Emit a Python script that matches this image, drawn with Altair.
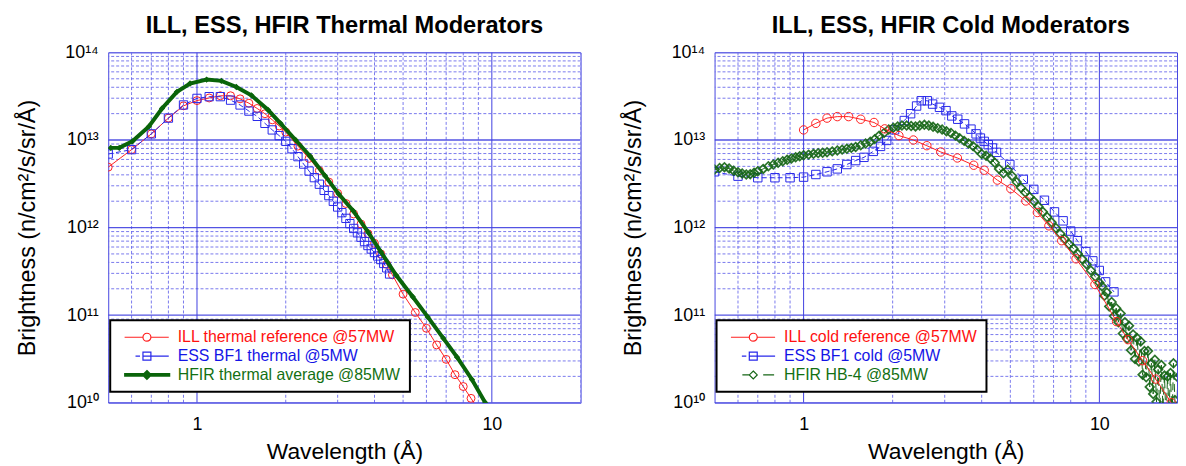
import altair as alt
import pandas as pd

FONT = "Liberation Sans"

# ---------------- grid / tick values ----------------
X_MAJOR = [1, 10]
X_MINOR = [0.6, 0.7, 0.8, 0.9, 2, 3, 4, 5, 6, 7, 8, 9, 20]
Y_MAJOR = [1e10, 1e11, 1e12, 1e13, 1e14]
Y_MINOR = [2e10, 3e10, 4e10, 5e10, 6e10, 7e10, 8e10, 9e10,
           2e11, 3e11, 4e11, 5e11, 6e11, 7e11, 8e11, 9e11,
           2e12, 3e12, 4e12, 5e12, 6e12, 7e12, 8e12, 9e12,
           2e13, 3e13, 4e13, 5e13, 6e13, 7e13, 8e13, 9e13]

# ---------------- thermal panel data (log10 of brightness) ----------------
ill_t_lam = [0.5, 0.6, 0.7, 0.8, 0.9, 1.0, 1.1, 1.2, 1.3, 1.4, 1.5, 1.6, 1.7, 1.8, 1.9, 2.0,
             2.2, 2.4, 2.6, 2.8, 3.0, 3.2, 3.4, 3.6, 3.8, 4.0, 4.2, 4.4, 4.6,
             5.0, 5.5, 6.0, 6.5, 7.0, 7.5, 8.0, 8.5, 9.0, 9.5]
ill_t_exp = [12.69, 12.89, 13.07, 13.25, 13.39, 13.45, 13.48, 13.505, 13.505, 13.47, 13.42, 13.36, 13.30, 13.23, 13.16, 13.09,
             12.93, 12.79, 12.65, 12.52, 12.39, 12.275, 12.155, 12.04, 11.93, 11.82, 11.70, 11.58, 11.46,
             11.24, 11.03, 10.85, 10.66, 10.495, 10.32, 10.185, 10.05, 9.92, 9.79]

ess_t_lam = [0.5, 0.6, 0.7, 0.8, 0.9, 1.0, 1.1, 1.2, 1.3, 1.4, 1.5, 1.6, 1.7, 1.8, 1.9, 2.0,
             2.1, 2.2, 2.3, 2.4, 2.5, 2.6, 2.7, 2.8, 2.9, 3.0, 3.1, 3.2, 3.3, 3.4, 3.5,
             3.6, 3.7, 3.8, 3.9, 4.0, 4.1, 4.2, 4.3, 4.4, 4.5]
ess_t_exp = [12.84, 12.89, 13.07, 13.25, 13.40, 13.475, 13.495, 13.495, 13.455, 13.40, 13.33, 13.27, 13.19, 13.115, 13.05, 12.985,
             12.90, 12.81, 12.725, 12.645, 12.57, 12.495, 12.425, 12.365, 12.30, 12.235, 12.17, 12.105, 12.045, 11.99, 11.94,
             11.89, 11.84, 11.795, 11.755, 11.715, 11.675, 11.635, 11.59, 11.54, 11.47]

hfir_t_lam = [0.51, 0.545, 0.604, 0.687, 0.761, 0.855, 0.947, 1.078, 1.21, 1.36, 1.53, 1.74, 1.92, 2.16,
              2.42, 2.72, 3.02, 3.39, 3.81, 4.21, 4.74, 5.39, 6.06, 6.85, 7.62, 8.56, 9.5, 10.5]
hfir_t_exp = [12.91, 12.91, 12.985, 13.155, 13.36, 13.55, 13.645, 13.69, 13.675, 13.605, 13.51, 13.345, 13.19, 13.0,
              12.815, 12.59, 12.385, 12.19, 11.945, 11.72, 11.455, 11.21, 10.98, 10.735, 10.52, 10.265, 10.0, 9.76]

# ---------------- cold panel data (log10 of brightness) ----------------
ill_c_lam = [1.0, 1.1, 1.2, 1.3, 1.42, 1.56, 1.73, 1.88, 2.1, 2.35, 2.61, 2.91, 3.31, 3.76, 4.08, 4.52,
             5.02, 5.64, 6.17, 6.75, 7.46, 8.34, 9.66, 11.43, 12.5, 14.0, 15.5, 17.5]
ill_c_exp = [13.115, 13.19, 13.25, 13.267, 13.267, 13.237, 13.20, 13.127, 13.05, 13.0, 12.935, 12.863, 12.795, 12.712, 12.655, 12.542,
             12.444, 12.304, 12.172, 12.02, 11.85, 11.643, 11.35, 10.926, 10.72, 10.48, 10.27, 10.0]

ess_c_lam = [0.5, 0.6, 0.7, 0.8, 0.9, 1.0, 1.1, 1.2, 1.3, 1.4, 1.5, 1.6, 1.72, 1.82, 1.91, 2.03, 2.19, 2.30,
             2.41, 2.50, 2.62, 2.73, 2.88, 3.03, 3.17, 3.32, 3.50, 3.68, 3.83, 3.96, 4.08, 4.21, 4.35, 4.49,
             4.98, 5.53, 6.0, 6.52, 7.05, 7.54, 8.0, 8.43, 9.0, 9.5, 9.99, 10.5, 11.2]
ess_c_exp = [12.637, 12.587, 12.569, 12.569, 12.569, 12.576, 12.606, 12.637, 12.67, 12.72, 12.765, 12.802, 12.87, 12.927, 12.995, 13.116, 13.222, 13.30,
             13.388, 13.448, 13.448, 13.41, 13.373, 13.335, 13.275, 13.237, 13.184, 13.124, 13.07, 13.022, 12.984, 12.946, 12.909, 12.859,
             12.72, 12.55, 12.436, 12.312, 12.179, 12.077, 11.96, 11.85, 11.726, 11.62, 11.51, 11.38, 11.266]

hb4_lam = [0.50, 0.52, 0.54, 0.56, 0.58, 0.60, 0.62, 0.64, 0.66, 0.68, 0.70, 0.73, 0.76, 0.79, 0.82, 0.85,
           0.88, 0.91, 0.94, 0.97, 1.00, 1.04, 1.08, 1.12, 1.16, 1.20, 1.25, 1.30, 1.35, 1.40, 1.45, 1.50,
           1.56, 1.62, 1.68, 1.74, 1.80, 1.87, 1.94, 2.01, 2.08, 2.15, 2.23, 2.31, 2.39, 2.47, 2.56, 2.65,
           2.74, 2.84, 2.94, 3.04, 3.15, 3.26, 3.37, 3.49, 3.61, 3.74, 3.87, 4.00, 4.14, 4.28, 4.43, 4.58,
           4.74, 4.90, 5.07, 5.25, 5.43, 5.62, 5.81, 6.01, 6.22, 6.44, 6.66, 6.89, 7.13, 7.38, 7.63, 7.90,
           8.17, 8.45, 8.74, 9.05, 9.36, 9.68, 10.0,
           10.2, 10.4, 10.6, 10.8, 11.0, 11.2, 11.4, 11.6, 11.8, 12.0, 12.2, 12.4, 12.6, 12.8, 13.0, 13.2,
           13.4, 13.6, 13.8, 14.0, 14.2, 14.4, 14.6, 14.8, 15.0, 15.2, 15.4, 15.6, 15.8, 16.0, 16.2, 16.4,
           16.6, 16.8, 17.0, 17.2, 17.4, 17.6, 17.8, 18.0, 18.2, 18.4, 18.6, 18.8]
hb4_exp = [12.663, 12.68, 12.69, 12.675, 12.65, 12.632, 12.618, 12.606, 12.61, 12.625, 12.644, 12.67, 12.70, 12.72, 12.74, 12.757,
           12.775, 12.79, 12.802, 12.815, 12.825, 12.833, 12.842, 12.85, 12.855, 12.86, 12.87, 12.88, 12.89, 12.90, 12.91, 12.92,
           12.94, 12.96, 12.98, 13.01, 13.05, 13.08, 13.12, 13.14, 13.155, 13.165, 13.165, 13.16, 13.155, 13.165, 13.173, 13.165,
           13.15, 13.135, 13.12, 13.10, 13.08, 13.05, 13.02, 12.99, 12.96, 12.93, 12.89, 12.84, 12.82, 12.79, 12.74, 12.67,
           12.62, 12.66, 12.59, 12.52, 12.455, 12.40, 12.35, 12.30, 12.24, 12.18, 12.12, 12.06, 11.995, 11.93, 11.87, 11.81,
           11.76, 11.70, 11.64, 11.58, 11.51, 11.44, 11.37,
           11.33, 11.22, 11.26, 11.10, 11.15, 10.99, 11.08, 10.92, 11.02, 10.79, 10.92, 10.73, 10.88, 10.60, 10.78, 10.50,
           10.74, 10.47, 10.70, 10.32, 10.59, 10.29, 10.59, 10.18, 10.45, 10.10, 10.49, 10.01, 10.38, 9.92, 10.43, 9.95,
           10.31, 9.80, 10.30, 9.91, 10.34, 9.77, 10.45, 10.03, 9.66, 10.29, 9.82, 10.31]

# ---------------- legend labels / styles ----------------
THERMAL_NAMES = ["ILL thermal reference @57MW", "ESS BF1 thermal @5MW", "HFIR thermal average @85MW"]
COLD_NAMES = ["ILL cold reference @57MW", "ESS BF1 cold @5MW", "HFIR HB-4 @85MW"]

RED = "#ff2020"
BLUE = "#2828ea"
DKGREEN = "#0a640a"
GREEN = "#166616"

P_CIRCLE = "M-0.5,0H3.2M4.8,0H8.4M3.2,0A0.8,0.8,0,1,1,4.8,0A0.8,0.8,0,1,1,3.2,0Z"
P_SQUARE = "M1.7,0H2.6M3.2,-0.8H4.8V0.8H3.2ZM3.2,0H8.4"
P_THICK = ("M-0.6,-0.25H8.7M-0.6,0H8.7M-0.6,0.25H8.7"
           "M4,-0.9L4.9,0L4,0.9L3.1,0ZM4,-0.55L4.55,0L4,0.55L3.45,0ZM4,-0.2L4.2,0L4,0.2L3.8,0Z")
P_DIAMOND = "M1.8,0H3.2M4,-0.8L4.8,0L4,0.8L3.2,0ZM6,0H8.2"

LABEL_COLOR = ("indexof(datum.label, 'ILL') === 0 ? '#ff1010' : "
               "indexof(datum.label, 'ESS') === 0 ? '#1414e6' : '#137013'")

MAJOR_COLOR = "#4040e0"
MINOR_COLOR = "#6262ea"


def series_df(lam, exp):
    return pd.DataFrame({"lam": lam, "val": [10.0 ** e for e in exp]})


XAXIS = alt.Axis(values=X_MAJOR, format="d", grid=False, ticks=False, domain=False,
                 labelFont=FONT, labelFontSize=18, labelColor="black", labelPadding=13,
                 labelFlush=False, labelOverlap=False,
                 title="Wavelength (Å)", titleFont=FONT, titleFontSize=23, titleFontWeight="normal",
                 titleColor="black", titlePadding=7)
YAXIS = alt.Axis(values=Y_MAJOR,
                 labelExpr="'10' + ['¹⁰','¹¹','¹²','¹³','¹⁴'][round(log(datum.value) / LN10) - 10]",
                 grid=False, ticks=False, domain=False,
                 labelFont=FONT, labelFontSize=18, labelColor="black", labelPadding=10,
                 labelFlush=False, labelOverlap=False,
                 title="Brightness (n/cm²/s/sr/Å)", titleFont=FONT, titleFontSize=23.5,
                 titleFontWeight="normal", titleColor="black", titlePadding=26)


def panel(title, xmax, width, series, names, colors, paths, title_dx):
    xs = alt.Scale(type="log", domain=[0.5, xmax], nice=False)
    ys = alt.Scale(type="log", domain=[1e10, 1e14], nice=False)
    X = alt.X("lam:Q", scale=xs, axis=XAXIS)
    Y = alt.Y("val:Q", scale=ys, axis=YAXIS)

    layers = [
        alt.Chart(pd.DataFrame({"lam": X_MINOR})).mark_rule(
            color=MINOR_COLOR, strokeWidth=1, strokeDash=[3, 2], opacity=0.85, clip=True).encode(x=X),
        alt.Chart(pd.DataFrame({"val": Y_MINOR})).mark_rule(
            color=MINOR_COLOR, strokeWidth=1, strokeDash=[3, 2], opacity=0.85, clip=True).encode(y=Y),
        alt.Chart(pd.DataFrame({"lam": X_MAJOR})).mark_rule(
            color=MAJOR_COLOR, strokeWidth=1, clip=True).encode(x=X),
        alt.Chart(pd.DataFrame({"val": Y_MAJOR})).mark_rule(
            color=MAJOR_COLOR, strokeWidth=1.3, opacity=0.9, clip=True).encode(y=Y),
    ]
    for s in series:
        df = series_df(s["lam"], s["exp"])
        line_kw = dict(color=s["color"], strokeWidth=s["lw"], clip=True)
        if s.get("dash"):
            line_kw["strokeDash"] = s["dash"]
        layers.append(alt.Chart(df).mark_line(**line_kw).encode(x=X, y=Y))
        layers.append(alt.Chart(df).mark_point(
            shape=s["shape"], filled=s["filled"], color=s["color"], size=s["size"],
            strokeWidth=s.get("pw", 1), opacity=s.get("opacity", 1), clip=True).encode(x=X, y=Y))

    leg = alt.Legend(title=None, orient="none", legendX=2, legendY=270, direction="vertical",
                     fillColor="white", strokeColor="black", padding=9, cornerRadius=0,
                     labelFont=FONT, labelFontSize=16, labelColor=alt.ExprRef(expr=LABEL_COLOR),
                     labelLimit=400, labelOffset=43, symbolSize=100, symbolStrokeWidth=1.2,
                     rowPadding=3)
    leg_df = pd.DataFrame({"series": names, "lam": [1.0] * 3, "val": [1e12] * 3})
    layers.append(
        alt.Chart(leg_df).mark_point(filled=False, opacity=1).encode(
            x=X, y=Y,
            color=alt.Color("series:N", scale=alt.Scale(domain=names, range=colors), legend=leg),
            shape=alt.Shape("series:N", scale=alt.Scale(domain=names, range=paths), legend=leg),
        ).transform_filter("false")
    )
    return alt.layer(*layers).properties(
        width=width, height=353,
        title=alt.TitleParams(title, font=FONT, fontSize=23.8, fontWeight="bold", color="black",
                              anchor="middle", offset=6, dx=title_dx),
    )


thermal_series = [
    dict(lam=ill_t_lam, exp=ill_t_exp, color=RED, lw=1, shape="circle", filled=False, size=64),
    dict(lam=ess_t_lam, exp=ess_t_exp, color=BLUE, lw=1, dash=[5, 3], shape="square", filled=False, size=70),
    dict(lam=hfir_t_lam, exp=hfir_t_exp, color=DKGREEN, lw=4, shape="diamond", filled=True, size=40),
]
cold_series = [
    dict(lam=ess_c_lam, exp=ess_c_exp, color=BLUE, lw=1, dash=[5, 3], shape="square", filled=False, size=72),
    dict(lam=hb4_lam, exp=hb4_exp, color=GREEN, lw=1, dash=[8, 4], shape="diamond", filled=False, size=75,
         opacity=0.9, pw=1.7),
    dict(lam=ill_c_lam, exp=ill_c_exp, color=RED, lw=1, shape="circle", filled=False, size=72),
]

left = panel("ILL, ESS, HFIR Thermal Moderators", 20, 476, thermal_series, THERMAL_NAMES,
             [RED, BLUE, DKGREEN], [P_CIRCLE, P_SQUARE, P_THICK], 0)
right = panel("ILL, ESS, HFIR Cold Moderators", 18.3, 466, cold_series, COLD_NAMES,
              [RED, BLUE, GREEN], [P_CIRCLE, P_SQUARE, P_DIAMOND], 5)

chart = alt.hconcat(left, right, spacing=39).resolve_scale(
    x="independent", y="independent", color="independent", shape="independent"
).resolve_legend(color="independent", shape="independent").properties(
    padding={"left": 6, "top": 3, "right": 0, "bottom": 0},
    background="white",
).configure_view(stroke="#4646e0", strokeWidth=1).configure_legend(strokeWidth=2)

chart.save("out.html", embed_options={"renderer": "svg", "actions": False})
